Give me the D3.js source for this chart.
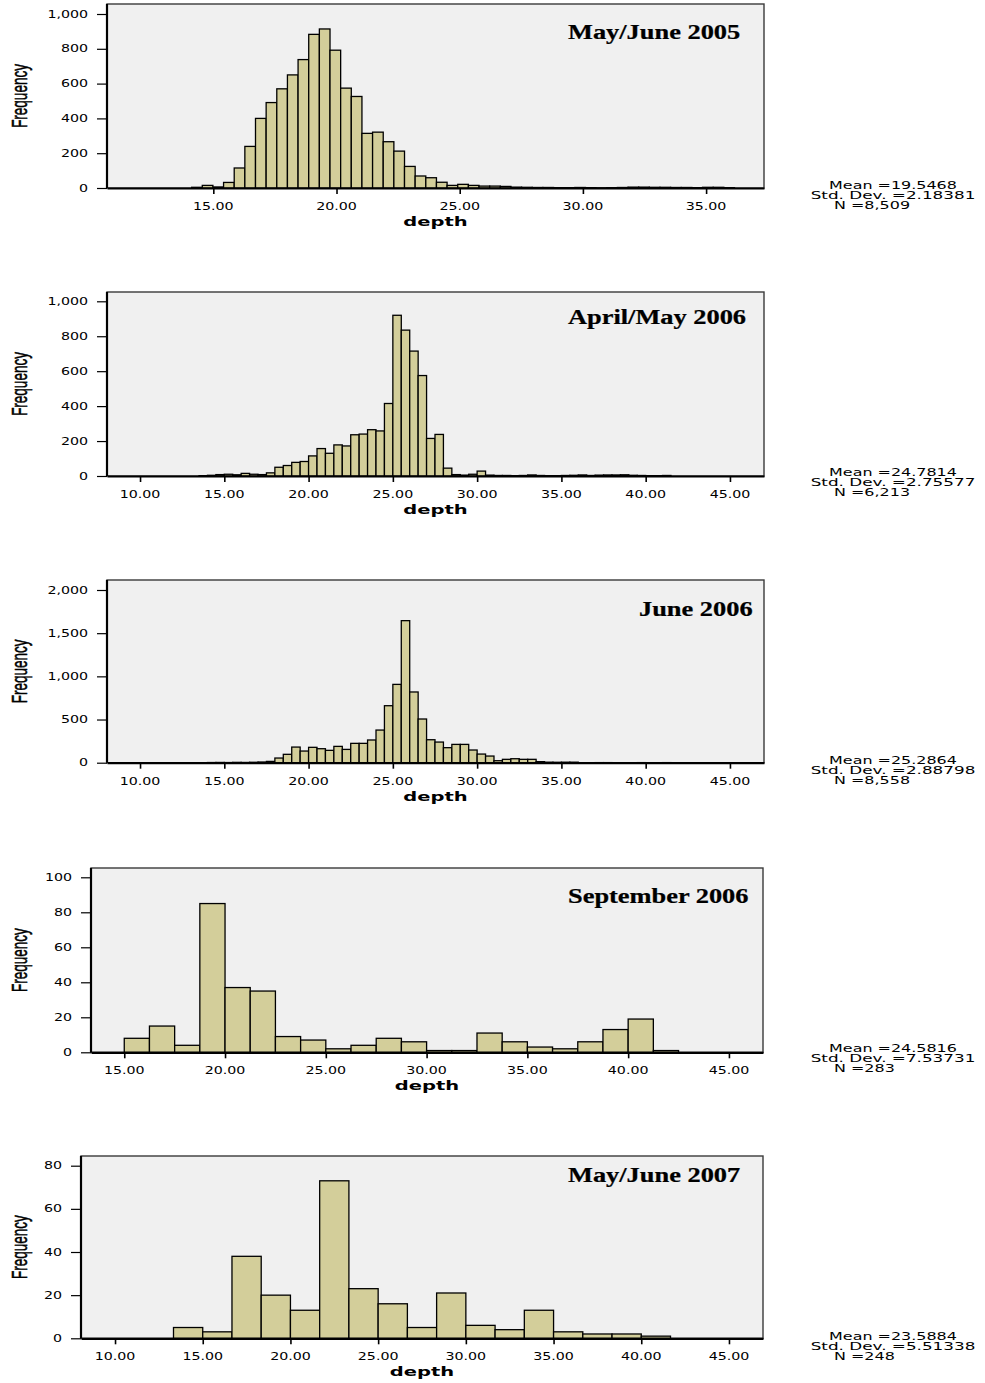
<!DOCTYPE html>
<html>
<head>
<meta charset="utf-8">
<script src="https://cdn.jsdelivr.net/npm/d3@7"></script>
<style>
  body { margin: 0; background: #fff; }
</style>
</head>
<body>
<svg id="chart" width="985" height="1383"></svg>
<script>
// ---- Survey titles ----
const titles = ["May/June 2005", "April/May 2006", "June 2006", "September 2006", "May/June 2007"];

// ---- Histogram bins: first edge and width (depth units) ----
const binStarts = [14.12, 13.5, 14.0, 15.0, 13.3333];
const binWidths = [0.432, 0.5, 0.5, 1.25, 1.6667];

// ---- Frequencies per bin ----
const countsMayJun2005 = [4, 15, 6, 32, 115, 239, 400, 491, 570, 650, 738, 883, 914, 792, 574, 526, 314, 321, 266, 212,
  124, 69, 59, 33, 15, 21, 15, 11, 11, 9, 5, 4, 3, 3, 2, 2, 3, 2, 1, 2, 3, 5, 5, 4, 4, 3, 3, 2, 4, 4, 2];
const countsAprMay2006 = [2, 4, 8, 10, 7, 15, 10, 8, 18, 50, 60, 78, 83, 115, 157, 130, 178, 172, 236, 240, 265, 258,
  415, 920, 835, 715, 575, 215, 238, 45, 8, 5, 10, 28, 5, 3, 3, 2, 3, 6, 3, 2, 2, 3, 4, 6, 3, 5, 6, 6, 7, 4, 3, 2, 2, 3];
const countsJun2006 = [2, 3, 2, 4, 3, 5, 8, 15, 54, 97, 181, 135, 178, 162, 143, 189, 154, 224, 224, 263, 378, 660,
  907, 1645, 819, 506, 266, 239, 174, 212, 212, 147, 100, 77, 23, 39, 46, 39, 39, 12, 6, 5, 6, 6, 0, 0, 1, 1, 0, 0, 0, 1, 0, 0, 1];
const countsSep2006 = [8, 15, 4, 85, 37, 35, 9, 7, 2, 4, 8, 6, 1, 1, 11, 6, 3, 2, 6, 13, 19, 1];
const countsMayJun2007 = [5, 3, 38, 20, 13, 73, 23, 16, 5, 21, 6, 4, 13, 3, 2, 2, 1];
const allCounts = [countsMayJun2005, countsAprMay2006, countsJun2006, countsSep2006, countsMayJun2007];

// ---- Axis ticks ----
const yTicks = [
  [0, 200, 400, 600, 800, 1000],
  [0, 200, 400, 600, 800, 1000],
  [0, 500, 1000, 1500, 2000],
  [0, 20, 40, 60, 80, 100],
  [0, 20, 40, 60, 80]
];
const xTicks = [
  [15, 20, 25, 30, 35],
  [10, 15, 20, 25, 30, 35, 40, 45],
  [10, 15, 20, 25, 30, 35, 40, 45],
  [15, 20, 25, 30, 35, 40, 45],
  [10, 15, 20, 25, 30, 35, 40, 45]
];

// ---- Summary statistics ----
const means = ["19.5468", "24.7814", "25.2864", "24.5816", "23.5884"];
const stdDevs = ["2.18381", "2.75577", "2.88798", "7.53731", "5.51338"];
const sampleSizes = ["8,509", "6,213", "8,558", "283", "248"];

// ---- Panel layout (pixels) and visible depth range ----
const panels = [
  { left: 107, right: 764, top: 4,    bottom: 188,    yTickTop: 14,     xDomain: [10.685, 37.35], titleX: 568, titleDy: 35, statDy: 1 },
  { left: 107, right: 764, top: 292,  bottom: 476,    yTickTop: 301.3,  xDomain: [8.04, 47.02],   titleX: 568, titleDy: 32, statDy: 0 },
  { left: 107, right: 764, top: 580,  bottom: 762.7,  yTickTop: 590,    xDomain: [8.04, 47.02],   titleX: 639, titleDy: 36, statDy: 1 },
  { left: 91,  right: 763, top: 868,  bottom: 1052.3, yTickTop: 877.3,  xDomain: [13.35, 46.69],  titleX: 568, titleDy: 35, statDy: 0 },
  { left: 81,  right: 763, top: 1156, bottom: 1338.3, yTickTop: 1165.7, xDomain: [8.06, 46.94],   titleX: 568, titleDy: 26, statDy: 2 }
];

const BAR_FILL = "#d3ce9a";
const PLOT_BG = "#f0f0f0";
const STRETCH = 1.42;   // horizontal stretch of the chart lettering

const svg = d3.select("#chart");

function label(g, x, y, str, opts) {
  const sx = opts.sx || STRETCH;
  return g.append("text")
    .attr("transform", `translate(${x},${y}) scale(${sx},1)` + (opts.rotate ? ` rotate(${opts.rotate})` : ""))
    .attr("text-anchor", opts.anchor || "start")
    .attr("font-family", opts.family || "'DejaVu Sans', sans-serif")
    .attr("font-size", opts.size || 10)
    .attr("font-weight", opts.weight || "normal")
    .attr("stroke", opts.halo ? "#000" : null)
    .attr("stroke-width", opts.halo || null)
    .attr("fill", "#000")
    .text(str);
}

panels.forEach((p, i) => {
  const g = svg.append("g");
  const x = d3.scaleLinear().domain(p.xDomain).range([p.left, p.right]);
  const maxTick = d3.max(yTicks[i]);
  const y = d3.scaleLinear().domain([0, maxTick]).range([p.bottom, p.yTickTop]);

  // plot frame
  g.append("rect")
    .attr("x", p.left).attr("y", p.top)
    .attr("width", p.right - p.left).attr("height", p.bottom - p.top)
    .attr("fill", PLOT_BG).attr("stroke", "#3a3a3a").attr("stroke-width", 1.4);

  // histogram bars
  const bins = allCounts[i].map((c, k) => ({
    x0: binStarts[i] + k * binWidths[i],
    x1: binStarts[i] + (k + 1) * binWidths[i],
    count: c
  })).filter(d => d.count > 0);

  g.append("g").selectAll("rect")
    .data(bins)
    .join("rect")
    .attr("x", d => x(d.x0))
    .attr("width", d => x(d.x1) - x(d.x0))
    .attr("y", d => y(d.count))
    .attr("height", d => y(0) - y(d.count))
    .attr("fill", BAR_FILL)
    .attr("stroke", "#000")
    .attr("stroke-width", 1.3);

  // axes (lines and tick marks)
  const yAxis = d3.axisLeft(y).tickValues(yTicks[i]).tickSize(10).tickFormat("");
  const xAxis = d3.axisBottom(x).tickValues(xTicks[i]).tickSize(6).tickSizeOuter(0).tickFormat("");
  const ya = g.append("g").attr("transform", `translate(${p.left},0)`).call(yAxis);
  const xa = g.append("g").attr("transform", `translate(0,${p.bottom})`).call(xAxis);
  ya.select(".domain").attr("d", `M0,${p.top}V${p.bottom}`).attr("stroke", "#000").attr("stroke-width", 2.2);
  xa.select(".domain").attr("stroke", "#000").attr("stroke-width", 2.2);
  ya.selectAll(".tick line").attr("stroke", "#000").attr("stroke-width", 1.2);
  xa.selectAll(".tick line").attr("stroke", "#000").attr("stroke-width", 1.6);

  // tick labels
  const fmtY = d3.format(",");
  const fmtX = d3.format(".2f");
  yTicks[i].forEach(t => label(g, p.left - 19, y(t) + 3.6, fmtY(t), { anchor: "end" }));
  xTicks[i].forEach(t => label(g, x(t), p.bottom + 22, fmtX(t), { anchor: "middle" }));

  // axis titles
  label(g, (p.left + p.right) / 2, p.bottom + 38, "depth",
    { anchor: "middle", weight: "bold", size: 13, sx: 1.5 });
  label(g, 27, (p.top + p.bottom) / 2, "Frequency",
    { anchor: "middle", size: 13.5, family: "'Liberation Sans', Arial, sans-serif", rotate: -90, sx: 1.6, halo: 0.35 });

  // panel title
  label(g, p.titleX, p.top + p.titleDy, titles[i],
    { family: "'Liberation Serif', 'Times New Roman', serif", weight: "bold", size: 22, sx: 1.2, halo: 0.25 });

  // summary statistics
  const sy = p.bottom + p.statDy;
  label(g, 893, sy, "Mean =" + means[i], { anchor: "middle", size: 10.5, sx: 1.52 });
  label(g, 893, sy + 10, "Std. Dev. =" + stdDevs[i], { anchor: "middle", size: 10.5, sx: 1.6 });
  label(g, 834, sy + 20, "N =" + sampleSizes[i], { anchor: "start", size: 10.5, sx: 1.52 });
});
</script>
</body>
</html>
